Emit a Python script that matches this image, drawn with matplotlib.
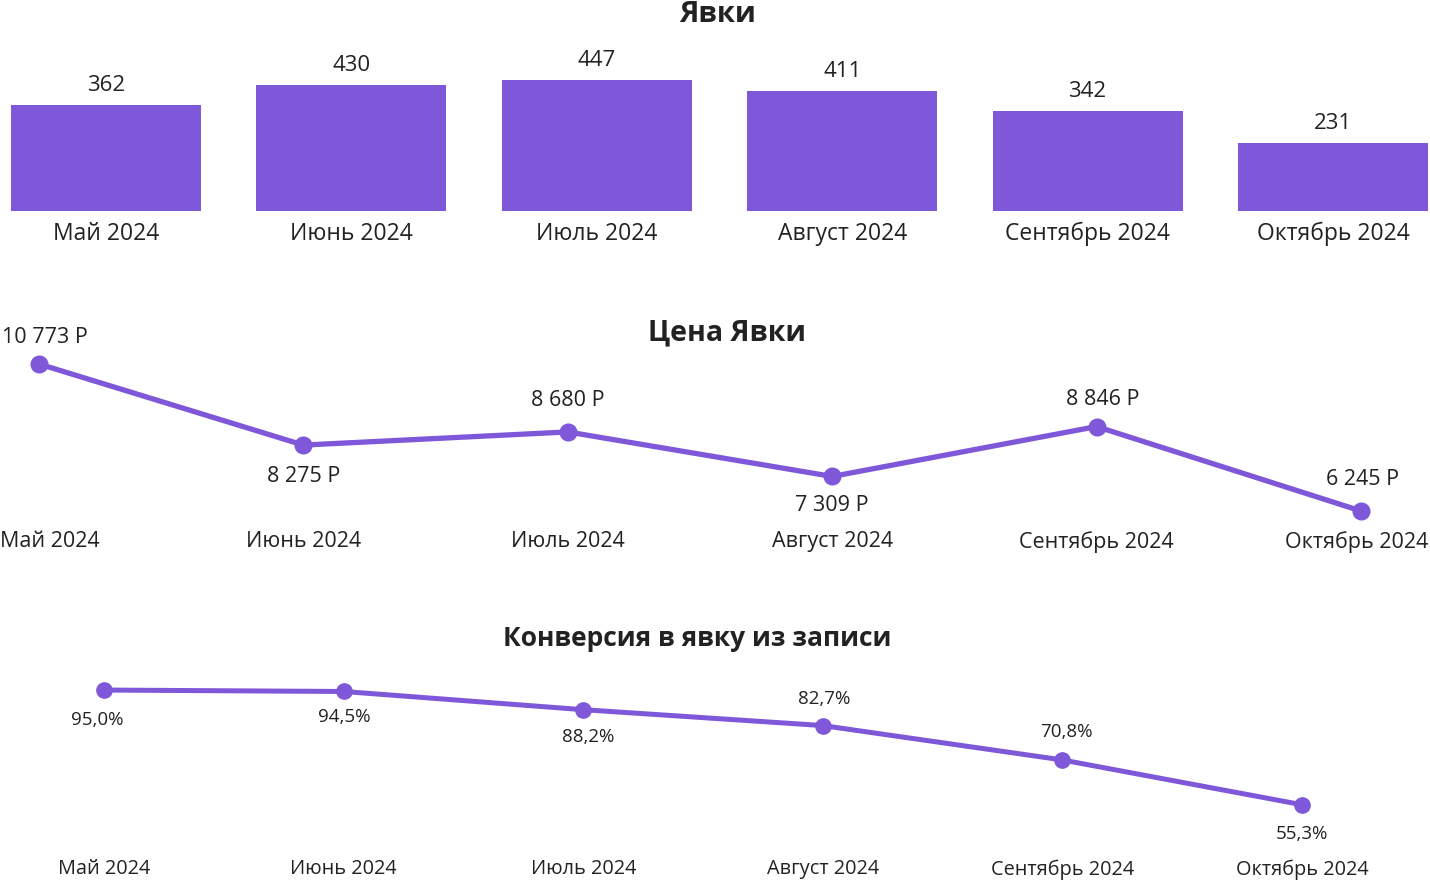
import matplotlib.pyplot as plt
import matplotlib.transforms as mtransforms

plt.rcParams['font.family'] = ['Open Sans', 'DejaVu Sans']

months = ["Май 2024", "Июнь 2024", "Июль 2024", "Август 2024", "Сентябрь 2024", "Октябрь 2024"]
visits = [362, 430, 447, 411, 342, 231]
visit_price = [10773, 8275, 8680, 7309, 8846, 6245]
conversion = [95.0, 94.5, 88.2, 82.7, 70.8, 55.3]

purple = '#7E58D9'
txt = '#222222'
W, H = 1430, 886


def fax(top, bottom):
    # axes across full width, pixel rows from top of the image
    return fig.add_axes([0, (H - bottom) / H, 1, (bottom - top) / H])


def clean(ax):
    for s in ax.spines.values():
        s.set_visible(False)
    ax.set_yticks([])
    ax.tick_params(axis='x', length=0, colors=txt)


fig = plt.figure(figsize=(W / 100, H / 100), dpi=100)
x = list(range(len(months)))

# --- Явки (bars)
ax1 = fax(40, 211)
step = 245.4
ax1.set_xlim(-106 / step, (W - 106) / step)
ax1.set_ylim(0, 585)
ax1.bar(x, visits, width=0.774, color=purple)
for xi, v in zip(x, visits):
    ax1.annotate(str(v), (xi, v), xytext=(0, 9), textcoords='offset pixels',
                 ha='center', va='bottom', fontsize=16, color=txt)
clean(ax1)
ax1.set_xticks(x)
ax1.set_xticklabels(months, fontsize=16.5)
ax1.tick_params(axis='x', pad=8)
fig.text(718 / W, 1 - 15 / H, "Явки", ha='center', va='center', fontsize=21,
         fontweight='bold', color=txt)

# --- Цена Явки (line)
ax2 = fax(330, 528)
step2 = 264.4
ax2.set_xlim(-39 / step2, (W - 39) / step2)
ax2.set_ylim(5721, 11820)
ax2.plot(x, visit_price, color=purple, lw=3.8, marker='o', ms=12, solid_capstyle='round')
offs2 = [(6, 26), (0, -31), (0, 31), (0, -29), (6, 27), (2, 31)]
for xi, v, (dx, dy) in zip(x, visit_price, offs2):
    lab = f"{v:,}".replace(",", " ") + " Р"
    ax2.annotate(lab, (xi, v), xytext=(dx, dy), textcoords='offset pixels',
                 ha='center', va='center', fontsize=15.5, color=txt)
clean(ax2)
ax2.set_xticks(x)
ax2.set_xticklabels(months, fontsize=15.5)
ax2.tick_params(axis='x', pad=2)
tl = ax2.get_xticklabels()
tl[0].set_horizontalalignment('left')
tl[0].set_transform(tl[0].get_transform() + mtransforms.ScaledTranslation(-0.39, 0, fig.dpi_scale_trans))
tl[-1].set_horizontalalignment('right')
tl[-1].set_transform(tl[-1].get_transform() + mtransforms.ScaledTranslation(0.67, 0, fig.dpi_scale_trans))
fig.text(727 / W, 1 - 333 / H, "Цена Явки", ha='center', va='center', fontsize=20.5,
         fontweight='bold', color=txt)

# --- Конверсия (line)
ax3 = fax(660, 855)
step3 = 239.6
ax3.set_xlim(-104 / step3, (W - 104) / step3)
ax3.set_ylim(37.9, 105.4)
ax3.plot(x, conversion, color=purple, lw=3.6, marker='o', ms=11, solid_capstyle='round')
offs3 = [(-7, -30), (1, -26), (5, -27), (1, 27), (4, 28), (0, -29)]
for xi, v, (dx, dy) in zip(x, conversion, offs3):
    lab = f"{v:.1f}%".replace(".", ",")
    ax3.annotate(lab, (xi, v), xytext=(dx, dy), textcoords='offset pixels',
                 ha='center', va='center', fontsize=13.5, color=txt)
clean(ax3)
ax3.set_xticks(x)
ax3.set_xticklabels(months, fontsize=14.3)
ax3.tick_params(axis='x', pad=3)
fig.text(697 / W, 1 - 638 / H, "Конверсия в явку из записи", ha='center', va='center',
         fontsize=19, fontweight='bold', color=txt)

fig.savefig('out.png', dpi=100)
